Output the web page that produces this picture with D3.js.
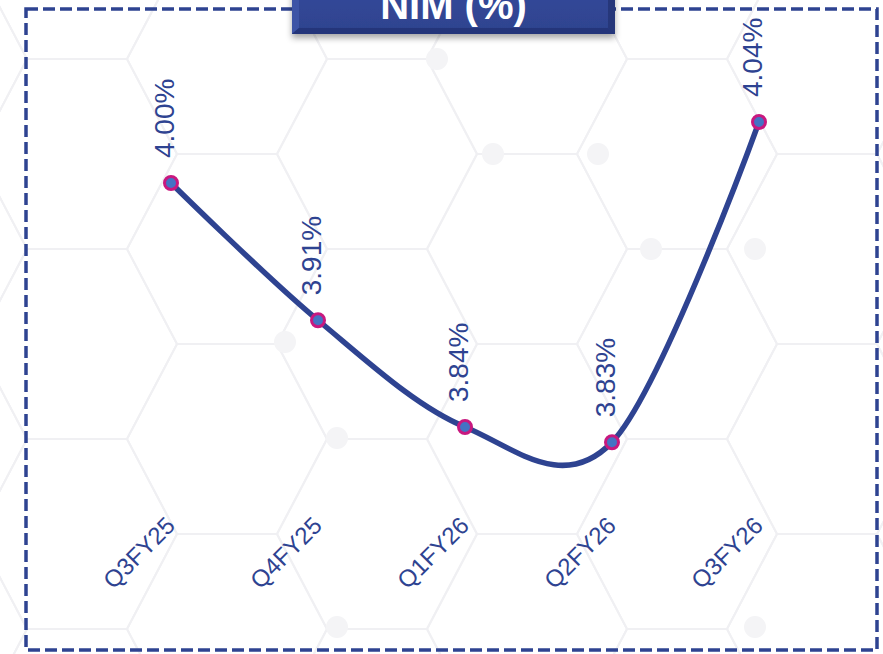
<!DOCTYPE html>
<html>
<head>
<meta charset="utf-8">
<script src="https://cdn.jsdelivr.net/npm/d3@7"></script>
<style>
  body { margin: 0; background: #fff; }
  svg { display: block; }
</style>
</head>
<body>
<svg id="chart" width="883" height="654"></svg>
<script>
// chart data
var quarters = [ "Q3FY25", "Q4FY25", "Q1FY26", "Q2FY26", "Q3FY26" ];
var nimValues = [ 4.00, 3.91, 3.84, 3.83, 4.04 ];
var chartTitle = "NIM (%)";

var navy = "#2e4391";

// faint hexagon background pattern
function hexBackground( sel ) {
    var s = 100, half = 95;
    var g = sel.append( "g" ).attr( "fill", "none" )
        .attr( "stroke", "#f0f0f3" ).attr( "stroke-width", 2 );
    for ( var k = -1; k < 8; k++ ) {
        for ( var j = -1; j < 5; j++ ) {
            var cx = 77 + 150 * k;
            var cy = 154 + 190 * j - ( Math.abs( k ) % 2 ? 95 : 0 );
            var pts = [ [cx - s, cy], [cx - s/2, cy - half], [cx + s/2, cy - half],
                        [cx + s, cy], [cx + s/2, cy + half], [cx - s/2, cy + half] ];
            g.append( "path" ).attr( "d", d3.line()( pts ) + "Z" );
        }
    }
    // a few soft dots at the joints
    [ [437,59], [493,154], [598,154], [285,342], [337,438], [651,249], [755,249], [755,627], [337,627] ]
        .forEach( function( p ) {
            g.append( "circle" ).attr( "cx", p[0] ).attr( "cy", p[1] ).attr( "r", 11 )
                .attr( "fill", "#f4f4f6" ).attr( "stroke", "none" );
        } );
}

// title box with bevel and shadow
function titleBox( sel, label ) {
    var defs = sel.append( "defs" );
    var f = defs.append( "filter" ).attr( "id", "shadow" )
        .attr( "x", "-10%" ).attr( "y", "-30%" ).attr( "width", "120%" ).attr( "height", "180%" );
    f.append( "feDropShadow" ).attr( "dx", 0 ).attr( "dy", 4 ).attr( "stdDeviation", 3 )
        .attr( "flood-color", "#000" ).attr( "flood-opacity", 0.35 );
    var gr = defs.append( "linearGradient" ).attr( "id", "boxGrad" )
        .attr( "x1", 0 ).attr( "y1", 0 ).attr( "x2", 0 ).attr( "y2", 1 );
    gr.append( "stop" ).attr( "offset", "0%" ).attr( "stop-color", "#33489a" );
    gr.append( "stop" ).attr( "offset", "85%" ).attr( "stop-color", "#2f4490" );
    gr.append( "stop" ).attr( "offset", "100%" ).attr( "stop-color", "#28397d" );

    sel.append( "rect" ).attr( "x", 292 ).attr( "y", -12 ).attr( "width", 323 ).attr( "height", 46 )
        .attr( "fill", "url(#boxGrad)" ).attr( "filter", "url(#shadow)" );
    // bevel edges
    sel.append( "path" ).attr( "d", "M292,34 L299,28 L299,-12 L292,-12 Z" ).attr( "fill", "#3d54a6" );
    sel.append( "path" ).attr( "d", "M615,34 L608,28 L608,-12 L615,-12 Z" ).attr( "fill", "#26377a" );
    sel.append( "path" ).attr( "d", "M292,34 L299,28 L608,28 L615,34 Z" ).attr( "fill", "#24357a" );
    sel.append( "text" ).attr( "x", 453.5 ).attr( "y", 19 )
        .attr( "text-anchor", "middle" )
        .attr( "font-family", "Liberation Sans, Arial, sans-serif" )
        .attr( "font-weight", "bold" ).attr( "font-size", 40 )
        .attr( "fill", "#fff" ).text( label );
}

function makeChart() {
    var svg = d3.select( "#chart" );
    svg.append( "rect" ).attr( "width", 883 ).attr( "height", 654 ).attr( "fill", "#fff" );
    svg.call( hexBackground );

    // dashed frame
    svg.append( "rect" ).attr( "x", 26 ).attr( "y", 9 ).attr( "width", 851 ).attr( "height", 641 )
        .attr( "fill", "none" ).attr( "stroke", navy ).attr( "stroke-width", 3.5 )
        .attr( "stroke-dasharray", "12,5" );

    var x = d3.scalePoint().domain( quarters ).range( [171, 759] );
    var y = d3.scaleLinear().domain( [3.80, 4.10] ).range( [488, 30.5] );

    var data = quarters.map( (q, i) => ( { q: q, v: nimValues[i] } ) );

    var line = d3.line().x( d => x( d.q ) ).y( d => y( d.v ) ).curve( d3.curveCardinal.tension( 0 ) );
    svg.append( "path" ).datum( data ).attr( "d", line )
        .attr( "fill", "none" ).attr( "stroke", navy ).attr( "stroke-width", 5.5 )
        .attr( "stroke-linecap", "round" );

    svg.selectAll( "circle.pt" ).data( data ).enter().append( "circle" ).classed( "pt", true )
        .attr( "cx", d => x( d.q ) ).attr( "cy", d => y( d.v ) ).attr( "r", 6.5 )
        .attr( "fill", "#4472c4" ).attr( "stroke", "#c8187f" ).attr( "stroke-width", 3 );

    // value labels, rotated
    svg.selectAll( "text.val" ).data( data ).enter().append( "text" ).classed( "val", true )
        .attr( "transform", d => "translate(" + ( x( d.q ) + 3 ) + "," + ( y( d.v ) - 25 ) + ") rotate(-90)" )
        .attr( "font-family", "Liberation Sans, Arial, sans-serif" ).attr( "font-size", 28 )
        .attr( "fill", navy )
        .text( d => d.v.toFixed( 2 ) + "%" );

    // category axis, no line or ticks
    var axis = svg.append( "g" ).attr( "transform", "translate(0,527)" )
        .call( d3.axisBottom( x ).tickSize( 0 ).tickPadding( 0 ) );
    axis.select( ".domain" ).remove();
    axis.selectAll( "text" )
        .attr( "font-family", "Liberation Sans, Arial, sans-serif" ).attr( "font-size", 24 )
        .attr( "fill", navy ).attr( "text-anchor", "end" )
        .attr( "dy", 0 ).attr( "y", 0 )
        .attr( "transform", "translate(5,0) rotate(-45)" );

    svg.call( titleBox, chartTitle );
}

makeChart();
</script>
</body>
</html>
